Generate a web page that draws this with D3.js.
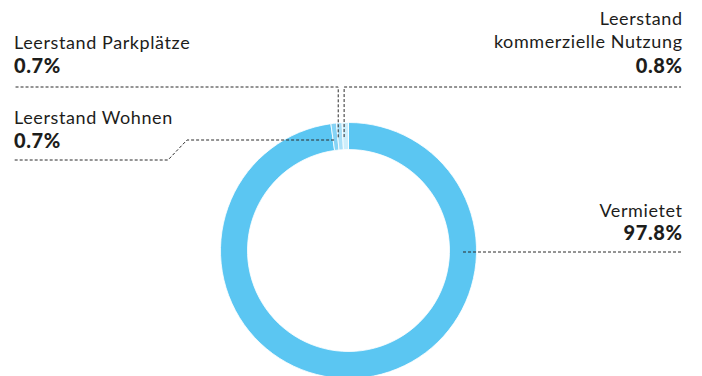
<!DOCTYPE html>
<html>
<head>
<meta charset="utf-8">
<script src="https://cdn.jsdelivr.net/npm/d3@7"></script>
<style>
  html, body { margin: 0; padding: 0; background: #fff; }
  svg { display: block; }
  .lbl { font-family: Lato, "Noto Sans", sans-serif; fill: #1d1d1b; }
  .name { font-size: 18px; font-weight: 400; letter-spacing: 0.6px; }
  .val { font-size: 20px; font-weight: 900; letter-spacing: 0.6px; }
  .leader { fill: none; stroke: #2b2b2b; stroke-width: 1; stroke-dasharray: 3 2; }
</style>
</head>
<body>
<svg id="chart" width="702" height="376"></svg>
<script>
// Occupancy shares (percent)
const categories = ["Vermietet", "Leerstand Wohnen", "Leerstand Parkplätze", "Leerstand kommerzielle Nutzung"];
const values = [97.8, 0.7, 0.7, 0.8];
const valueLabels = ["97.8%", "0.7%", "0.7%", "0.8%"];
const colors = ["#5bc6f2", "#86d3f5", "#a9e0f8", "#cdeefb"];

const W = 702, H = 376;
const cx = 348.5, cy = 250.5;
const rOuter = 128, rInner = 101, rMid = (rOuter + rInner) / 2;

const svg = d3.select("#chart");
const data = categories.map((c, i) => ({ name: c, value: values[i], label: valueLabels[i], color: colors[i] }));

const pie = d3.pie().sort(null).value(d => d.value).startAngle(0).endAngle(2 * Math.PI);
const arcs = pie(data);
const arc = d3.arc().innerRadius(rInner).outerRadius(rOuter);

const g = svg.append("g").attr("transform", `translate(${cx},${cy})`);
g.selectAll("path.slice")
  .data(arcs)
  .join("path")
  .attr("class", "slice")
  .attr("d", arc)
  .attr("fill", d => d.data.color)
  .attr("stroke", "#fff")
  .attr("stroke-width", 0.8);

// point on the ring at a given angle (d3 convention: 0 = 12 o'clock, clockwise)
const ringPoint = (a, r) => [cx + r * Math.sin(a), cy - r * Math.cos(a)];
const mid = d => (d.startAngle + d.endAngle) / 2;

const line = d3.line();
const leaders = svg.append("g");

// Vermietet: horizontal leader from the right side of the ring
const pV = ringPoint(Math.PI / 2, rMid);
leaders.append("path").attr("class", "leader")
  .attr("d", line([[pV[0], pV[1] + 1.5], [681, pV[1] + 1.5]]));

// Leerstand Wohnen: elbow leader to the left
const aW = mid(arcs[1]);
const yW = 140;
const xW = cx + (cy - yW) * Math.tan(aW);
leaders.append("path").attr("class", "leader")
  .attr("d", line([[xW - 1.5, yW], [187, yW], [168, 160], [14, 160]]));

// Leerstand Parkplätze: up then left
const pP = ringPoint(mid(arcs[2]), rMid);
leaders.append("path").attr("class", "leader")
  .attr("d", line([[pP[0] - 2, pP[1] + 1], [pP[0] - 2, 87], [14, 87]]));

// Leerstand kommerzielle Nutzung: up then right
const pK = ringPoint(mid(arcs[3]), rMid);
leaders.append("path").attr("class", "leader")
  .attr("d", line([[pK[0] - 1.5, pK[1] + 1], [pK[0] - 1.5, 87], [681, 87]]));

// Labels
const labels = svg.append("g").attr("class", "lbl");
function label(x, anchor, lines, baselines, valText, valBaseline) {
  // trailing letter-spacing shifts end-anchored text; compensate
  const dx = anchor === "end" ? 0.6 : 0;
  lines.forEach((t, i) => {
    labels.append("text").attr("class", "lbl name").attr("x", x + dx).attr("y", baselines[i])
      .attr("text-anchor", anchor).text(t);
  });
  labels.append("text").attr("class", "lbl val").attr("x", x + dx).attr("y", valBaseline)
    .attr("text-anchor", anchor).text(valText);
}
label(14, "start", [categories[2]], [49], data[2].label, 73);
label(14, "start", [categories[1]], [124], data[1].label, 148);
label(682, "end", ["Leerstand", "kommerzielle Nutzung"], [25, 48], data[3].label, 73);
label(682, "end", [categories[0]], [217], data[0].label, 240);
</script>
</body>
</html>
